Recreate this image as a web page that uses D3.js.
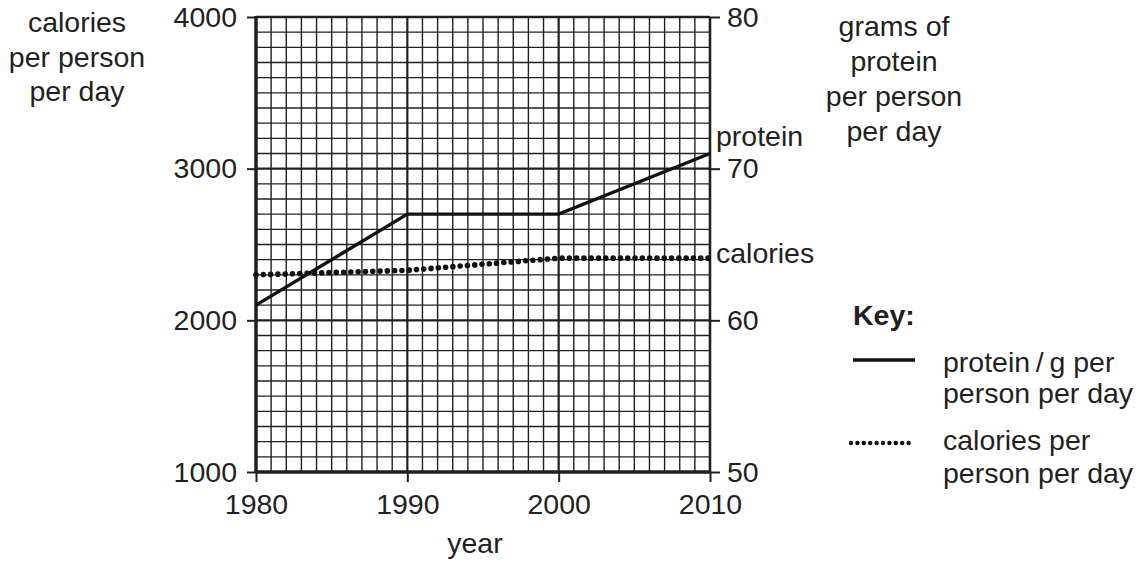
<!DOCTYPE html>
<html>
<head>
<meta charset="utf-8">
<script src="https://cdn.jsdelivr.net/npm/d3@7"></script>
<style>
  body { margin: 0; background: #fff; }
  svg text { font-family: "Liberation Sans", Arial, Helvetica, sans-serif; fill: #231f20; }
</style>
</head>
<body>
<svg id="chart" width="1142" height="570"></svg>
<script>
const years = [1980, 1990, 2000, 2010];
const proteinValues = [61, 67, 67, 71];
const calorieValues = [2300, 2330, 2410, 2410];
const xTicks = [1980, 1990, 2000, 2010];
const leftTicks = [1000, 2000, 3000, 4000];
const rightTicks = [50, 60, 70, 80];

const svg = d3.select("#chart");
const ink = "#231f20";
const L = 256, R = 710, T = 17, B = 472;
const FS = 28.5;

const x = d3.scaleLinear().domain([1980, 2010]).range([L, R]);
const yL = d3.scaleLinear().domain([1000, 4000]).range([B, T]);
const yR = d3.scaleLinear().domain([50, 80]).range([B, T]);

// grid
const g = svg.append("g");
d3.range(1980, 2011, 1).forEach(v => {
  const major = v % 10 === 0;
  g.append("line").attr("x1", x(v)).attr("x2", x(v)).attr("y1", T).attr("y2", B)
    .attr("stroke", ink).attr("stroke-width", major ? 2.2 : 1.4);
});
d3.range(1000, 4001, 100).forEach(v => {
  const major = v % 1000 === 0;
  g.append("line").attr("x1", L).attr("x2", R).attr("y1", yL(v)).attr("y2", yL(v))
    .attr("stroke", ink).attr("stroke-width", major ? 2.2 : 1.4);
});

// axes
const axL = d3.axisLeft(yL).tickValues(leftTicks).tickSize(9).tickPadding(10).tickFormat(d3.format("d"));
const axR = d3.axisRight(yR).tickValues(rightTicks).tickSize(10).tickPadding(7).tickFormat(d3.format("d"));
const axB = d3.axisBottom(x).tickValues(xTicks).tickSize(10).tickPadding(12).tickFormat(d3.format("d"));

function style(sel) {
  sel.select(".domain").remove();
  sel.selectAll(".tick line").attr("stroke", ink).attr("stroke-width", 2);
  sel.selectAll(".tick text").attr("font-size", FS).attr("fill", ink)
    .attr("font-family", '"Liberation Sans", Arial, sans-serif');
}
svg.append("g").attr("transform", `translate(${L},0)`).call(axL).call(style);
svg.append("g").attr("transform", `translate(${R},0)`).call(axR).call(style);
svg.append("g").attr("transform", `translate(0,${B})`).call(axB).call(style);

// frame lines
svg.append("line").attr("x1", L).attr("x2", L).attr("y1", T - 1).attr("y2", B + 1).attr("stroke", ink).attr("stroke-width", 3.5);
svg.append("line").attr("x1", L).attr("x2", R + 1).attr("y1", B).attr("y2", B).attr("stroke", ink).attr("stroke-width", 3.5);
svg.append("line").attr("x1", R).attr("x2", R).attr("y1", T).attr("y2", B).attr("stroke", ink).attr("stroke-width", 2.4);
svg.append("line").attr("x1", L).attr("x2", R).attr("y1", T).attr("y2", T).attr("stroke", ink).attr("stroke-width", 2.4);

// series
const proteinLine = d3.line().x((d, i) => x(years[i])).y(d => yR(d));
const calLine = d3.line().x((d, i) => x(years[i])).y(d => yL(d));

svg.append("path").datum(calorieValues).attr("d", calLine)
  .attr("fill", "none").attr("stroke", "#111").attr("stroke-width", 5.6)
  .attr("stroke-linecap", "round").attr("stroke-dasharray", "0,7.3");
svg.append("path").datum(proteinValues).attr("d", proteinLine)
  .attr("fill", "none").attr("stroke", "#111").attr("stroke-width", 3.4)
  .attr("stroke-linejoin", "miter");

// text labels
function txt(s, xx, yy, anchor, opts = {}) {
  const t = svg.append("text").attr("x", xx).attr("y", yy).attr("font-size", opts.size || FS)
    .attr("text-anchor", anchor || "start").text(s);
  if (opts.bold) t.attr("font-weight", "bold");
  return t;
}
txt("calories", 77, 32, "middle");
txt("per person", 77, 67, "middle");
txt("per day", 77, 101, "middle");

txt("grams of", 894, 36, "middle");
txt("protein", 894, 71, "middle");
txt("per person", 894, 106, "middle");
txt("per day", 894, 141, "middle");

txt("year", 475, 553, "middle");

txt("protein", 716, 146, "start");
txt("calories", 716, 263, "start");

// key
txt("Key:", 853, 325, "start", { bold: true });
svg.append("line").attr("x1", 853).attr("x2", 915).attr("y1", 360).attr("y2", 360)
  .attr("stroke", "#111").attr("stroke-width", 3.4);
txt("protein\u2009/\u2009g per", 943, 372, "start");
txt("person per day", 943, 403, "start");
svg.append("line").attr("x1", 851).attr("x2", 909).attr("y1", 443).attr("y2", 443)
  .attr("stroke", "#111").attr("stroke-width", 4.4).attr("stroke-linecap", "round").attr("stroke-dasharray", "0,6.4");
txt("calories per", 943, 450, "start");
txt("person per day", 943, 483, "start");
</script>
</body>
</html>
